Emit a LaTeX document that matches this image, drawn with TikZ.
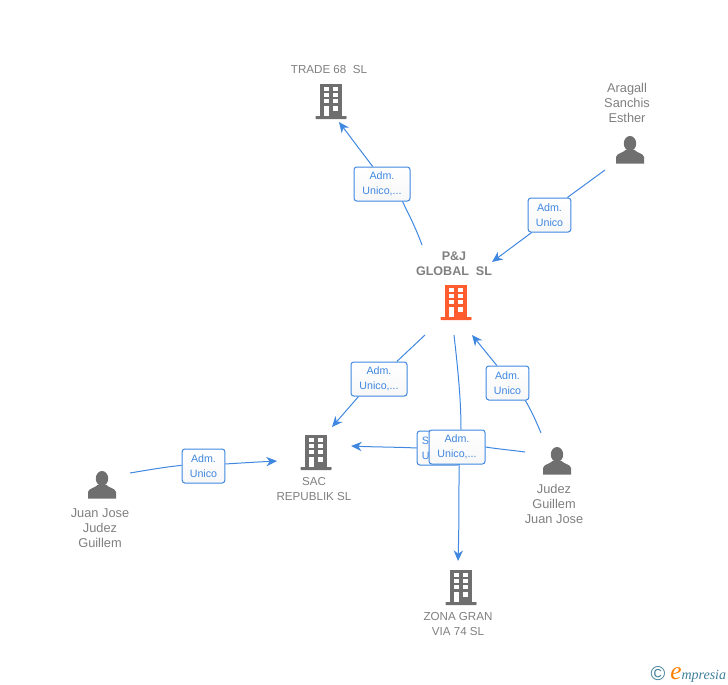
\documentclass[tikz,border=0pt]{standalone}
\usepackage{fontspec}
\setmainfont{Liberation Sans}
\newfontfamily\logofont{Liberation Serif}
\usetikzlibrary{arrows.meta}
\definecolor{linkblue}{HTML}{3F87E0}
\definecolor{namegray}{HTML}{7F7F7F}
\definecolor{icongray}{HTML}{6F6F6F}
\definecolor{mainorange}{HTML}{FF5C2E}
\definecolor{logoblue}{HTML}{3F7F99}
\tikzset{
	linkbox/.style={draw=linkblue,top color=white,bottom color=black!3,rounded corners=2pt,line width=0.75pt,text=linkblue,
		font=\fontsize{8}{11.25}\selectfont,align=center,minimum height=25.5pt,inner sep=0pt},
	boxwide/.style={minimum width=42pt},
	boxnarrow/.style={minimum width=32pt},
	nametext/.style={text=namegray,font=\fontsize{9.6}{11.25}\selectfont,align=center,inner sep=0pt},
	capstext/.style={nametext,font=\fontsize{8.7}{11.25}\selectfont},
	link/.style={draw=linkblue,line width=0.75pt},
	tolink/.style={link,-{Stealth[length=8pt,width=7pt]}},
	buildingicon/.pic={
		\fill[#1] (-11,-17) rectangle (11,16);
		\fill[#1,rounded corners=0.5pt] (-15.5,15) rectangle (15.5,18);
		\foreach \y in {-14,-8,-2}{
			\fill[white] (-7,\y) rectangle (-2.5,\y+4);
			\fill[white] (2,\y) rectangle (6.5,\y+4);
		}
		\fill[white] (-7,5) rectangle (-2.5,15);
		\fill[white] (2,5) rectangle (6.5,9.5);
	},
	personicon/.pic={
		\fill[icongray] (0,-6.5) ellipse (6.2 and 7.5);
		\fill[icongray] (-14,13.5) -- (-14,7) .. controls (-13,3) and (-7,3) .. (-4.5,0)
			-- (4.5,0) .. controls (7,3) and (13,3) .. (14,7) -- (14,13.5) -- cycle;
	}
}
\begin{document}
\begin{tikzpicture}[x=0.75pt,y=-0.75pt]
\useasboundingbox (0,0) rectangle (728,685);

% companies and people
\pic at (331,101) {buildingicon=icongray};
\pic at (456,302) {buildingicon=mainorange};
\pic at (316,452) {buildingicon=icongray};
\pic at (461,587) {buildingicon=icongray};
\pic at (630,150) {personicon};
\pic at (557,461) {personicon};
\pic at (102,485) {personicon};

\node[capstext] (trade) at (329,70) {TRADE 68\ \ SL};
\node[nametext] (aragall) at (627,103) {Aragall\\Sanchis\\Esther};
\node[capstext,font=\fontsize{9.4}{11.25}\selectfont\bfseries] (pj) at (454,263.5) {P\&J\\GLOBAL\ \ SL};
\node[capstext] (sac) at (314,489.5) {SAC\\REPUBLIK SL};
\node[capstext] (zona) at (458,623.5) {ZONA GRAN\\VIA 74 SL};
\node[nametext] (judez) at (554,504) {Judez\\Guillem\\Juan Jose};
\node[nametext] (juanjose) at (100,528) {Juan Jose\\Judez\\Guillem};

% labels on the links
\node[linkbox,boxwide] (admtrade) at (382,184) {Adm.\\Unico,...};
\node[linkbox,boxnarrow] (admaragall) at (549.5,215) {Adm.\\Unico};
\node[linkbox,boxwide] (admsac) at (379,379) {Adm.\\Unico,...};
\node[linkbox,boxnarrow] (admjudez) at (507.5,383) {Adm.\\Unico};
\node[linkbox,boxnarrow] (admjuan) at (203.5,466) {Adm.\\Unico};
\node[linkbox,boxnarrow,align=left,text width=25pt] (socio) at (438.5,448) {S\\U};
\node[linkbox,boxwide] (admzona) at (457,447) {Adm.\\Unico,...};

% link ends
\coordinate (tradefrom) at (422,245);
\coordinate (tradeto) at (339,122);
\coordinate (aragallfrom) at (605,170);
\coordinate (aragallto) at (492,262);
\coordinate (sacfrom) at (425,335);
\coordinate (sacto) at (332,427);
\coordinate (zonafrom) at (454,335);
\coordinate (zonato) at (458,561);
\coordinate (judezfrom) at (541,433);
\coordinate (judezto) at (472,335);
\coordinate (sociofrom) at (525,452);
\coordinate (socioto) at (351,446);
\coordinate (juanfrom) at (130,473);
\coordinate (juanto) at (277,461);

% links
\draw[link] (tradefrom) .. controls (415,226) and (408,213) .. ([xshift=-6pt]admtrade.south east);
\draw[tolink] ([xshift=-7pt]admtrade.north) -- (tradeto);
\draw[link] (aragallfrom) -- ([xshift=-3pt]admaragall.north east);
\draw[tolink] ([xshift=3pt]admaragall.south west) -- (aragallto);
\draw[link] (sacfrom) -- ([xshift=-8pt]admsac.north east);
\draw[tolink] ([xshift=6pt]admsac.south west) -- (sacto);
\draw[link] (zonafrom) .. controls (458,370) and (461,400) .. ([xshift=3pt]admzona.north);
\draw[tolink] ([xshift=1.5pt]admzona.south) .. controls (459,500) and (459,530) .. (zonato);
\draw[link] (judezfrom) .. controls (536,421) and (531,410) .. ([xshift=-3pt]admjudez.south east);
\draw[tolink] ([xshift=-8pt]admjudez.north) -- (judezto);
\draw[link] (sociofrom) .. controls (510,450) and (498,449) .. (admzona.east);
\draw[tolink] (socio.west) .. controls (395,447) and (373,447) .. (socioto);
\draw[link] (juanfrom) .. controls (148,470) and (165,467) .. ([yshift=0.5pt]admjuan.west);
\draw[tolink] ([yshift=1.5pt]admjuan.east) .. controls (240,463) and (258,462) .. (juanto);

% logo
\node[text=logoblue,inner sep=0pt,font=\fontsize{15}{15}\selectfont] (copyr) at (658,674) {©};
\node[anchor=west,inner sep=0pt,font=\logofont\itshape\fontsize{10.5}{12}\selectfont,text=logoblue] (logo) at (670,675)
	{{\fontsize{19}{19}\selectfont\color{orange}e}mpresia};
\end{tikzpicture}
\end{document}
